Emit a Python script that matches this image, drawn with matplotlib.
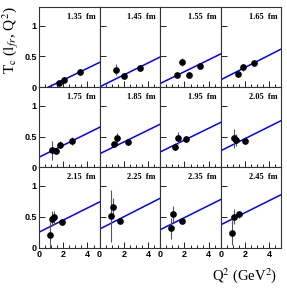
import matplotlib
matplotlib.use("Agg")
import matplotlib.pyplot as plt
import numpy as np
from matplotlib.ticker import MultipleLocator

labels = ["1.35", "1.45", "1.55", "1.65", "1.75", "1.85",
          "1.95", "2.05", "2.15", "2.25", "2.35", "2.45"]

q2 = [
    [1.65, 2.09, 3.39],
    [1.39, 2.02, 3.37],
    [1.35, 1.79, 2.34, 3.31],
    [1.45, 1.83, 2.74],
    [1.05, 1.38, 1.76, 2.70],
    [1.20, 1.47, 2.33],
    [1.24, 1.46, 2.12],
    [1.12, 1.28, 2.02],
    [0.94, 1.05, 1.27, 1.93],
    [0.93, 1.09, 1.67],
    [0.91, 1.05, 1.77],
    [0.95, 1.06, 1.50],
]
tc = [
    [0.07, 0.11, 0.25],
    [0.28, 0.18, 0.31],
    [0.20, 0.41, 0.20, 0.35],
    [0.22, 0.32, 0.40],
    [0.275, 0.26, 0.37, 0.43],
    [0.38, 0.47, 0.41],
    [0.335, 0.48, 0.455],
    [0.47, 0.445, 0.435],
    [0.21, 0.47, 0.49, 0.41],
    [0.51, 0.66, 0.435],
    [0.31, 0.545, 0.435],
    [0.24, 0.50, 0.54],
]
err = [
    [0.03, 0.03, 0.04],
    [0.09, 0.03, 0.05],
    [0.05, 0.06, 0.04, 0.05],
    [0.05, 0.05, 0.04],
    [0.16, 0.04, 0.06, 0.06],
    [0.05, 0.08, 0.04],
    [0.06, 0.10, 0.05],
    [0.15, 0.10, 0.05],
    [0.21, 0.12, 0.10, 0.04],
    [0.42, 0.15, 0.04],
    [0.17, 0.13, 0.04],
    [0.20, 0.12, 0.06],
]
fit_intercept = [-0.073, 0.005, 0.06, 0.12, 0.165, 0.22, 0.25, 0.27, 0.25, 0.30, 0.29, 0.37]
fit_slope = [0.095, 0.097, 0.096, 0.10, 0.097, 0.096, 0.096, 0.098, 0.098, 0.10, 0.098, 0.098]

W, H = 287, 290
fig = plt.figure(figsize=(W / 100, H / 100), dpi=100)

left_px, top_px = 39, 7
pw, ph = 60.6, 80.2
tickfont = dict(family="Liberation Sans", weight="bold", size=6.5)

xs = np.linspace(0, 5, 50)
for i in range(12):
    r, c = divmod(i, 4)
    x0 = (left_px + c * pw) / W
    y0 = 1 - (top_px + (r + 1) * ph) / H
    ax = fig.add_axes([x0, y0, pw / W, ph / H])
    ax.set_xlim(0, 5)
    ax.set_ylim(0, 1.3)
    ax.plot(xs, fit_intercept[i] + fit_slope[i] * xs, color="#0000ff", lw=1.1, zorder=2)
    ax.errorbar(q2[i], tc[i], yerr=err[i], fmt="o", color="black", ms=3.8,
                ecolor="#555555", elinewidth=0.8, capsize=0, zorder=3)
    ax.text(0.93, 0.88, labels[i] + "  fm", transform=ax.transAxes, ha="right", va="center",
            family="Liberation Serif", weight="bold", fontsize=6)
    ax.xaxis.set_major_locator(MultipleLocator(2))
    ax.xaxis.set_minor_locator(MultipleLocator(0.5))
    ax.yaxis.set_major_locator(MultipleLocator(0.5))
    ax.tick_params(which="both", direction="in", top=False, right=False, pad=1.5)
    ax.tick_params(which="major", length=4, width=0.6)
    ax.tick_params(which="minor", length=2, width=0.6)
    for s in ax.spines.values():
        s.set_linewidth(0.8)
        s.set_color("#333333")
    if c == 0:
        ax.set_yticks([0, 0.5, 1])
        ax.set_yticklabels(["0", "0.5", "1"], **tickfont)
    else:
        ax.set_yticklabels([])
    if r == 2:
        ax.set_xticks([0, 2, 4])
        ax.set_xticklabels(["0", "2", "4"], **tickfont)
    else:
        ax.set_xticklabels([])

fig.text(11 / W, 1 - 40 / H, r"T$_{\rm c}$ (l$_{fr}$, Q$^2$)", rotation=90, ha="center", va="center",
         family="Liberation Serif", fontsize=11, math_fontfamily="stix")
fig.text(277 / W, 1 - 276 / H, r"Q$^2$ (GeV$^2$)", ha="right", va="center",
         family="Liberation Serif", fontsize=10.5, math_fontfamily="stix")

fig.savefig("out.png", dpi=100)
